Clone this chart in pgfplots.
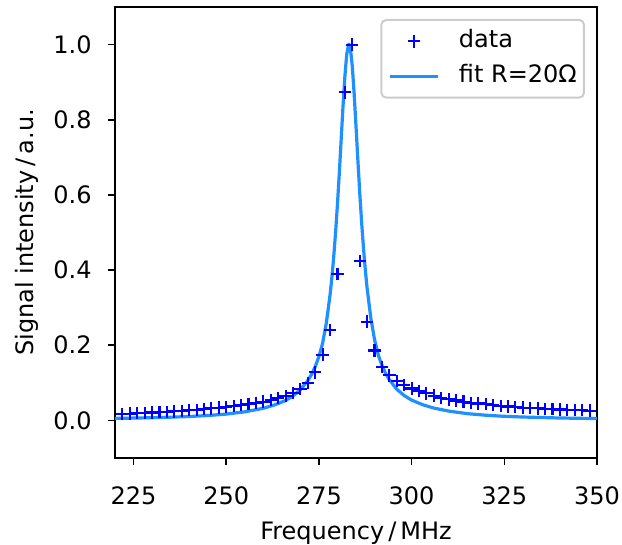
\documentclass[border=0pt]{standalone}
\usepackage{fontspec}
\setmainfont{DejaVu Sans}
\usepackage{pgfplots}
\pgfplotsset{compat=1.18}
\usetikzlibrary{calc}
\definecolor{mplblue}{RGB}{0,0,255}
\definecolor{dodger}{RGB}{30,144,255}
\pgfplotsset{
  marklegend/.style={legend image code/.code={\path[draw=none] (0pt,0pt) -- (24pt,0pt);
    \draw[mark repeat=1,mark phase=1,##1] plot coordinates {(12pt,0pt)};}},
  linelegend/.style={legend image code/.code={\draw[##1] (0pt,0pt) -- (24pt,0pt);}},
}
\begin{document}
\fontsize{12}{14.4}\selectfont
\begin{tikzpicture}
\begin{axis}[
  at={(0pt,0pt)}, anchor=south west,
  scale only axis, width=241pt, height=225.5pt,
  xmin=220, xmax=350, ymin=-0.1, ymax=1.1,
  xtick={225,250,275,300,325,350},
  ytick={0,0.2,0.4,0.6,0.8,1.0},
  tick pos=left, tick align=outside,
  major tick length=3.5pt,
  every tick/.style={black, line width=0.8pt},
  axis line style={line width=0.8pt},
  /pgf/number format/assume math mode=true,
  xticklabel style={anchor=base, yshift=-19.75pt},
  yticklabel style={anchor=east, inner sep=0pt, xshift=-8pt,
    /pgf/number format/fixed, /pgf/number format/fixed zerofill,
    /pgf/number format/precision=1},
  xlabel={Frequency\,/\,MHz},
  ylabel={Signal intensity\,/\,a.u.},
  xlabel style={at={(axis description cs:0.5,0)}, anchor=base, yshift=-40.75pt},
  ylabel style={at={($(axis description cs:0,0.5)+(-44pt,0pt)$)}, anchor=center},
  legend cell align=left,
  legend style={at={(axis description cs:1,1)}, anchor=north east,
    xshift=-6pt, yshift=-6pt, draw=black!20, line width=1pt,
    rounded corners=2.4pt, fill=white, fill opacity=0.8, text opacity=1,
    inner xsep=3.6pt, inner ysep=4.8pt, row sep=5.6pt, column sep=9.6pt,
    nodes={inner sep=0pt, text height=9pt, text depth=2.8pt, anchor=west}},
]
\addplot[only marks, mark=+, mark size=3.1pt, color=mplblue, mark options={line width=1.05pt},
  marklegend]
coordinates {
(222,0.017)(224,0.018)(226,0.019)(228,0.020)(230,0.021)(232,0.022)(234,0.023)
(236,0.024)(238,0.025)(240,0.027)(242,0.028)(244,0.030)(246,0.032)(248,0.034)
(250,0.036)(252,0.039)(254,0.041)(256,0.044)(258,0.047)(260,0.050)(262,0.054)
(264,0.059)(266,0.065)(268,0.073)(270,0.084)(272,0.100)(274,0.128)(276,0.175)
(278,0.241)(280,0.390)(282,0.873)(284,1.000)(286,0.424)(288,0.263)(290,0.186)
(292,0.142)(294,0.120)(296,0.105)(298,0.094)(300,0.085)(302,0.078)(304,0.072)
(306,0.066)(308,0.060)(310,0.056)(312,0.053)(314,0.050)(316,0.047)(318,0.045)
(320,0.043)(322,0.041)(324,0.039)(326,0.037)(328,0.036)(330,0.034)(332,0.033)
(334,0.032)(336,0.031)(338,0.030)(340,0.029)(342,0.028)(344,0.027)(346,0.027)
(348,0.026)
};
\addlegendentry{data}
\addplot[color=dodger, line width=1.6pt, line join=round, linelegend]
coordinates {
(220,0.0054)(225,0.0062)(230,0.0072)(235,0.0086)(240,0.0104)(245,0.0130)
(250,0.0168)(255,0.0229)(260,0.0323)(263,0.0410)(266,0.0529)(268,0.0651)
(270,0.0817)(272,0.1059)(273,0.1222)(274,0.1429)(275,0.1698)(276,0.2055)
(277,0.2593)(278,0.3336)(278.5,0.3808)(279,0.4363)(279.5,0.5010)(280,0.5752)
(280.5,0.6582)(281,0.7471)(281.5,0.8361)(282,0.9156)(282.5,0.9740)(283,1.0002)
(283.1,1.0010)(283.5,0.9888)(284,0.9422)(284.5,0.8696)(285,0.7831)(285.5,0.6933)
(286,0.6075)(286.5,0.5295)(287,0.4611)(287.5,0.4020)(288,0.3516)(289,0.2723)
(290,0.2150)(291,0.1745)(292,0.1463)(293,0.1247)(294,0.1084)(296,0.0828)
(298,0.0661)(300,0.0541)(303,0.0417)(306,0.0328)(310,0.0248)(315,0.0180)
(320,0.0138)(325,0.0109)(330,0.0090)(340,0.0064)(350,0.0049)
};
\addlegendentry{fit R=20Ω}
\end{axis}
\pgfresetboundingbox
\path[use as bounding box] (-57.5pt,-43.5pt) rectangle (253.5pt,229pt);
\end{tikzpicture}
\end{document}
